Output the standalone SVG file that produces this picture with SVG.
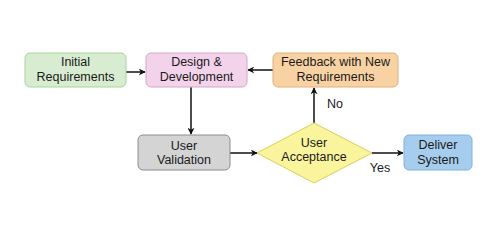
<svg xmlns="http://www.w3.org/2000/svg" width="500" height="229" viewBox="0 0 500 229">
<defs>
<style>
.t{font-family:"Liberation Sans",Arial,sans-serif;font-size:12.5px;fill:#1a1a1a;text-anchor:middle}
.e{stroke:#111;stroke-width:1.5;fill:none}
</style>
<marker id="ah" viewBox="0 0 10 10" refX="9" refY="5" markerWidth="7" markerHeight="7" orient="auto" markerUnits="userSpaceOnUse">
<path d="M0,0 L10,5 L0,10 L3,5 z" fill="#111"/>
</marker>
</defs>
<rect width="500" height="229" fill="#fff"/>
<g id="connectors">
<line class="e" x1="126" y1="72" x2="145" y2="72" marker-end="url(#ah)"/>
<line class="e" x1="273" y1="70" x2="248" y2="70" marker-end="url(#ah)"/>
<line class="e" x1="191" y1="87" x2="191" y2="134" marker-end="url(#ah)"/>
<line class="e" x1="230" y1="153" x2="257" y2="153" marker-end="url(#ah)"/>
<line class="e" x1="314" y1="123" x2="314" y2="88" marker-end="url(#ah)"/>
<line class="e" x1="372" y1="153" x2="403" y2="153" marker-end="url(#ah)"/>
<text class="t" x="335" y="108">No</text>
<text class="t" x="380" y="172">Yes</text>
</g>
<g id="initial">
<rect x="25" y="53" width="101" height="34" rx="5" fill="#d7ecd0" stroke="#a9d49a"/>
<text class="t"><tspan x="75.5" y="66">Initial</tspan><tspan x="75.5" y="80.5">Requirements</tspan></text>
</g>
<g id="design">
<rect x="146" y="53" width="101" height="34" rx="5" fill="#f3d3ea" stroke="#d4a8c8"/>
<text class="t"><tspan x="196.5" y="66">Design &amp;</tspan><tspan x="196.5" y="80.5">Development</tspan></text>
</g>
<g id="feedback">
<rect x="273" y="53" width="125" height="34" rx="5" fill="#f9d2a4" stroke="#e0b080"/>
<text class="t"><tspan x="335.5" y="66">Feedback with New</tspan><tspan x="335.5" y="80.5">Requirements</tspan></text>
</g>
<g id="validation">
<rect x="138" y="135" width="92" height="35" rx="5" fill="#d4d4d4" stroke="#8c8c8c"/>
<text class="t"><tspan x="184" y="149.5">User</tspan><tspan x="184" y="164">Validation</tspan></text>
</g>
<g id="acceptance">
<polygon points="257,153 314,123 372,153 314,183" fill="#faf59c" stroke="#d9cf5a"/>
<text class="t"><tspan x="314" y="146.5">User</tspan><tspan x="314" y="161">Acceptance</tspan></text>
</g>
<g id="deliver">
<rect x="404" y="135" width="68" height="35" rx="5" fill="#a6cdee" stroke="#7eb2de"/>
<text class="t"><tspan x="438" y="149">Deliver</tspan><tspan x="438" y="163.5">System</tspan></text>
</g>
</svg>
